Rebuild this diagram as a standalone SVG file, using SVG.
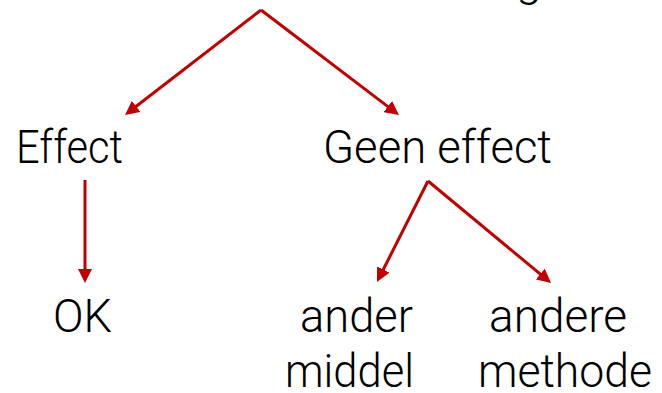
<svg xmlns="http://www.w3.org/2000/svg" width="662" height="393" viewBox="0 0 662 393">
<style>
.t{font-family:Roboto,"Liberation Sans",Arial,sans-serif;font-weight:300;font-size:47px;fill:#000}
.c{stroke:#c00000;stroke-width:3;fill:none;marker-end:url(#ah)}
</style>
<defs>
<marker id="ah" markerUnits="userSpaceOnUse" markerWidth="14" markerHeight="14" refX="8" refY="7" orient="auto">
<path d="M0,0 L14,7 L0,14 z" fill="#c00000"/>
</marker>
</defs>
<rect width="662" height="393" fill="#fff"/>
<g id="title"><text class="t" x="516" y="-4">g</text></g>
<g id="connectors">
<line class="c" x1="261" y1="10" x2="129.8" y2="111.3"/>
<line class="c" x1="261" y1="10" x2="394.2" y2="111.4"/>
<line class="c" x1="85" y1="180" x2="85" y2="277"/>
<line class="c" x1="428" y1="181" x2="379.7" y2="276.6"/>
<line class="c" x1="428" y1="181" x2="546.4" y2="279.2"/>
</g>
<g id="effect"><text class="t" x="16" y="163" textLength="107" lengthAdjust="spacingAndGlyphs">Effect</text></g>
<g id="geen-effect"><text class="t" x="323" y="163" textLength="229" lengthAdjust="spacingAndGlyphs">Geen effect</text></g>
<g id="ok"><text class="t" x="53" y="332" textLength="59" lengthAdjust="spacingAndGlyphs">OK</text></g>
<g id="ander-middel">
<text class="t" x="300" y="332" textLength="113" lengthAdjust="spacingAndGlyphs">ander</text>
<text class="t" x="285" y="387" textLength="129" lengthAdjust="spacingAndGlyphs">middel</text>
</g>
<g id="andere-methode">
<text class="t" x="489" y="332" textLength="138" lengthAdjust="spacingAndGlyphs">andere</text>
<text class="t" x="478" y="387" textLength="174" lengthAdjust="spacingAndGlyphs">methode</text>
</g>
</svg>
